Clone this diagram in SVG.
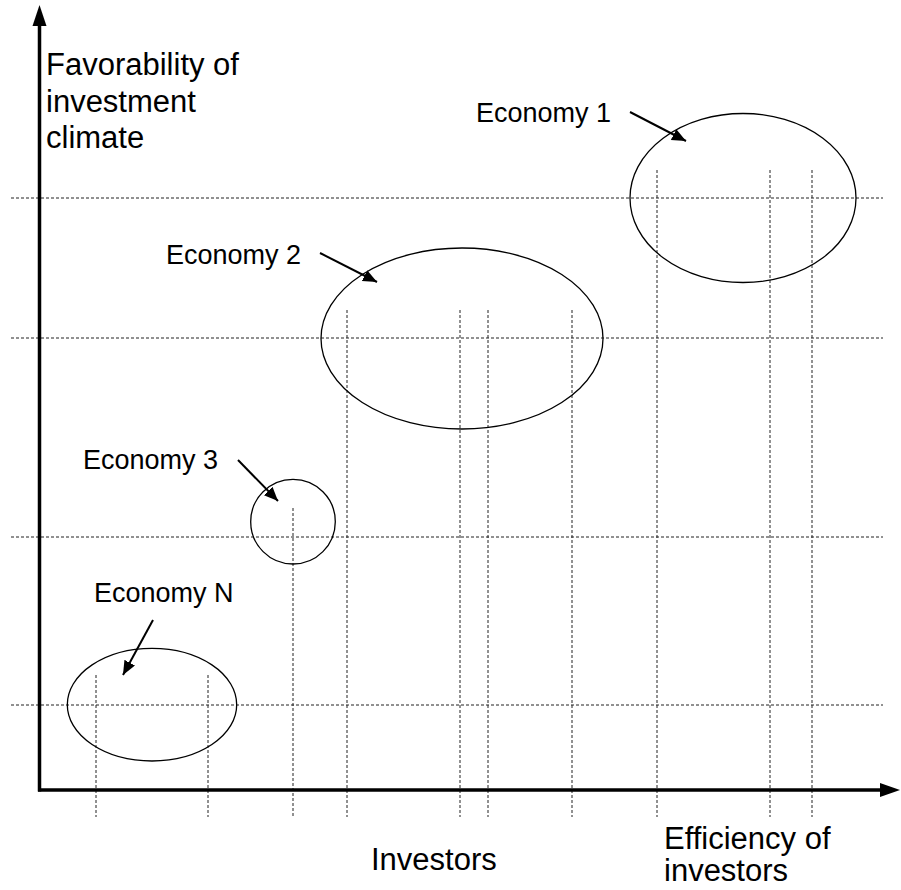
<svg xmlns="http://www.w3.org/2000/svg" width="901" height="890" viewBox="0 0 901 890">
<style>
.grid{stroke:#222;stroke-width:1;stroke-dasharray:3 2;fill:none}
.axis{stroke:#000;stroke-width:3.5;fill:none}
.eco{stroke:#000;stroke-width:1.3;fill:none}
.lbl{font-family:"Liberation Sans",Arial,sans-serif;font-size:27px;fill:#000}
.ax{font-family:"Liberation Sans",Arial,sans-serif;font-size:31px;fill:#000}
.ptr{stroke:#000;stroke-width:2;fill:none}
</style>
<defs>
<marker id="ah" markerUnits="userSpaceOnUse" markerWidth="16" markerHeight="14" refX="14" refY="6" orient="auto">
<path d="M0,0 L14,6 L0,12 Z" fill="#000"/>
</marker>
</defs>
<rect width="901" height="890" fill="#fff"/>
<g id="grid">
<line class="grid" x1="11" y1="198" x2="883" y2="198"/>
<line class="grid" x1="11" y1="338" x2="883" y2="338"/>
<line class="grid" x1="11" y1="537" x2="883" y2="537"/>
<line class="grid" x1="11" y1="705" x2="883" y2="705"/>
<line class="grid" x1="96" y1="675" x2="96" y2="817"/>
<line class="grid" x1="208" y1="675" x2="208" y2="817"/>
<line class="grid" x1="293" y1="508" x2="293" y2="817"/>
<line class="grid" x1="347" y1="310" x2="347" y2="817"/>
<line class="grid" x1="460" y1="310" x2="460" y2="817"/>
<line class="grid" x1="488" y1="310" x2="488" y2="817"/>
<line class="grid" x1="572" y1="310" x2="572" y2="817"/>
<line class="grid" x1="657" y1="170" x2="657" y2="817"/>
<line class="grid" x1="770" y1="170" x2="770" y2="817"/>
<line class="grid" x1="812" y1="170" x2="812" y2="817"/>
</g>
<g id="axes">
<line class="axis" x1="39.5" y1="791.5" x2="39.5" y2="24"/>
<path d="M39.5,5 L46.5,26 L32.5,26 Z" fill="#000"/>
<line class="axis" x1="38" y1="790" x2="882" y2="790"/>
<path d="M900,790 L880,783 L880,797 Z" fill="#000"/>
<text class="ax" x="46" y="75">Favorability of</text>
<text class="ax" x="46" y="111.5">investment</text>
<text class="ax" x="46" y="148">climate</text>
<text class="ax" x="371" y="870">Investors</text>
<text class="ax" x="664" y="849">Efficiency of</text>
<text class="ax" x="664" y="881">investors</text>
</g>
<g id="economy1">
<ellipse class="eco" cx="743" cy="198" rx="113" ry="84.5"/>
<text class="lbl" x="476" y="122">Economy 1</text>
</g>
<g id="economy2">
<ellipse class="eco" cx="462" cy="338.5" rx="141" ry="90.5"/>
<text class="lbl" x="166" y="264">Economy 2</text>
</g>
<g id="economy3">
<ellipse class="eco" cx="293" cy="521.7" rx="42.3" ry="42.3"/>
<text class="lbl" x="83" y="469">Economy 3</text>
</g>
<g id="economyN">
<ellipse class="eco" cx="152" cy="704.7" rx="84.7" ry="56.3"/>
<text class="lbl" x="94" y="602">Economy N</text>
</g>
<g id="connectors">
<line class="ptr" x1="630" y1="112" x2="686" y2="141" marker-end="url(#ah)"/>
<line class="ptr" x1="320" y1="253" x2="377" y2="282" marker-end="url(#ah)"/>
<line class="ptr" x1="238" y1="460" x2="278" y2="501" marker-end="url(#ah)"/>
<line class="ptr" x1="153" y1="620" x2="123" y2="675" marker-end="url(#ah)"/>
</g>
</svg>
